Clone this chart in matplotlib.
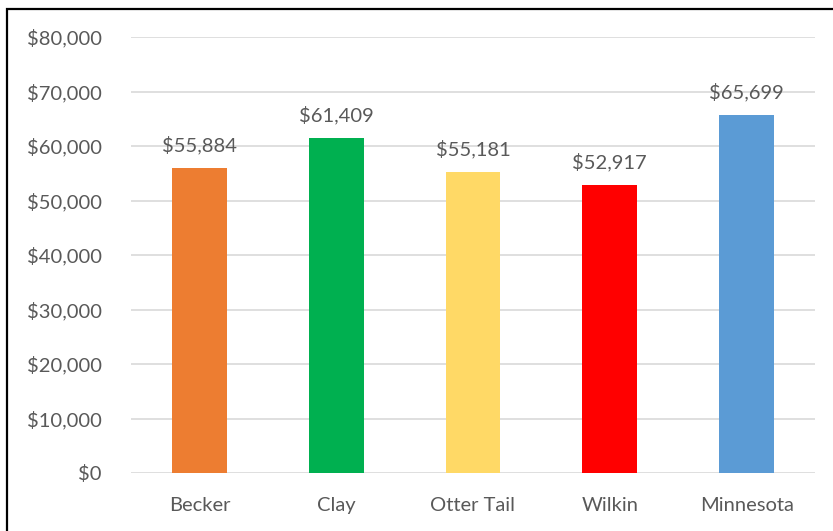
import matplotlib.pyplot as plt
from matplotlib.patches import Rectangle
from matplotlib.ticker import FuncFormatter

counties = ['Becker', 'Clay', 'Otter Tail', 'Wilkin', 'Minnesota']
income = [55884, 61409, 55181, 52917, 65699]
colors = ['#ED7D31', '#00B050', '#FFD966', '#FF0000', '#5B9BD5']

plt.rcParams['font.family'] = ['Lato', 'DejaVu Sans']
gray = '#595959'

fig = plt.figure(figsize=(8.33, 5.31), dpi=100)
ax = fig.add_axes([131/833, 1 - 473/531, 684/833, 436/531])

x = range(len(counties))
bars = ax.bar(x, income, width=0.4, color=colors, zorder=3)
for b, v in zip(bars, income):
    ax.text(b.get_x() + b.get_width()/2, v + 2500, '${:,}'.format(v),
            ha='center', va='bottom', fontsize=14.5, color=gray)

ax.set_xlim(-0.5, len(counties) - 0.5)
ax.set_ylim(0, 80000)
ax.set_yticks(range(0, 80001, 10000))
ax.yaxis.set_major_formatter(FuncFormatter(lambda v, p: '${:,.0f}'.format(v)))
ax.set_xticks(list(x))
ax.set_xticklabels(counties)
ax.tick_params(axis='both', length=0, labelsize=14.5, labelcolor=gray)
ax.tick_params(axis='y', pad=21)
ax.tick_params(axis='x', pad=17)
ax.grid(axis='y', color='#D9D9D9', linewidth=1.2, zorder=0)
for s in ax.spines.values():
    s.set_visible(False)

# outer frame, partly outside the canvas
fig.patches.append(Rectangle((6.5/833, -0.1), 1.2, 1.1 - 9/531,
                             transform=fig.transFigure, fill=False,
                             edgecolor='black', linewidth=1.6))

fig.savefig('out.png', dpi=100)
